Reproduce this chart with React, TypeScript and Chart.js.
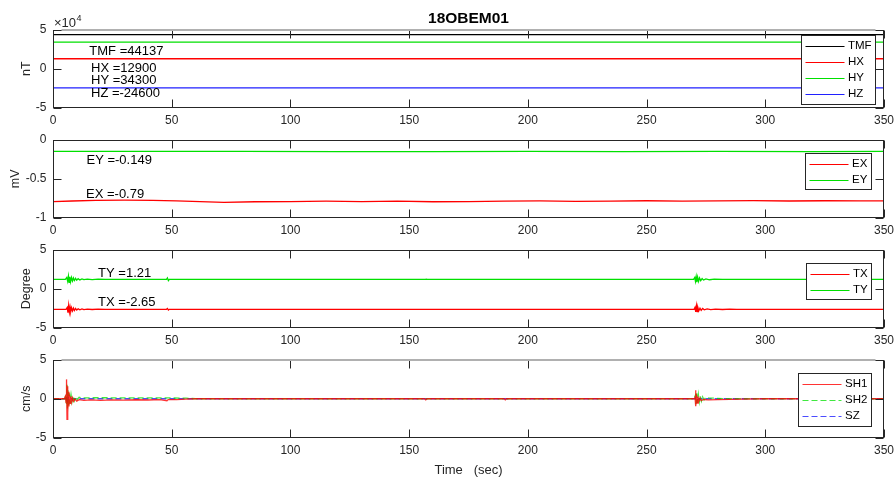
import React, { useEffect, useRef } from 'react';
import { Chart, registerables } from 'chart.js';

Chart.register(...registerables);

const FONT = '"Liberation Sans", Arial, Helvetica, sans-serif';
const AXIS_COLOR = '#262626';

// ---------- shared axis ----------
const TIME_MIN = 0;
const TIME_MAX = 350;
const TIME_STEP = 50;
const TITLE_TEXT = '18OBEM01';
const X_LABEL = 'Time   (sec)';

// ---------- panel 1 : magnetic field (nT) ----------
const TMF_VALUE = 44137;
const HX_VALUE = 12900;
const HY_VALUE = 34300;
const HZ_VALUE = -24600;
const TMF_POINTS: [number, number][] = [[0, TMF_VALUE], [350, TMF_VALUE]];
const HX_POINTS: [number, number][] = [[0, HX_VALUE], [350, HX_VALUE]];
const HY_POINTS: [number, number][] = [[0, HY_VALUE], [350, HY_VALUE]];
const HZ_POINTS: [number, number][] = [[0, HZ_VALUE], [350, HZ_VALUE]];
const MAG_TICKS = [-50000, 0, 50000];

// ---------- panel 2 : electric field (mV) ----------
const EX_VALUE = -0.79;
const EY_VALUE = -0.149;
const EX_POINTS: [number, number][] = [
  [0, -0.795], [8, -0.787], [18, -0.779], [30, -0.777], [42, -0.779], [52, -0.786], [62, -0.795],
  [72, -0.805], [85, -0.797], [100, -0.795], [115, -0.79], [130, -0.794], [145, -0.79], [160, -0.797],
  [175, -0.795], [190, -0.79], [205, -0.786], [220, -0.792], [235, -0.788], [250, -0.784], [265, -0.789],
  [280, -0.786], [295, -0.783], [310, -0.787], [325, -0.784], [340, -0.786], [350, -0.785],
];
const EY_POINTS: [number, number][] = [
  [0, -0.147], [40, -0.148], [80, -0.146], [120, -0.15], [160, -0.149], [200, -0.147],
  [240, -0.15], [280, -0.148], [320, -0.149], [350, -0.148],
];
const E_TICKS = [-1, -0.5, 0];

// ---------- panel 3 : tilt (Degree) ----------
const TX_VALUE = -2.65;
const TY_VALUE = 1.21;
const TX_POINTS: [number, number][] = [
  [0, -2.65], [5.5, -2.65], [6.0, -2.4], [6.3, -3.1], [6.6, -2.14], [6.9, -3.0], [7.2, -2.35], [7.5, -2.9],
  [7.8, -2.45], [8.2, -2.85], [8.6, -2.5], [9.0, -2.8], [9.5, -2.55], [10, -2.75], [10.6, -2.58], [11.3, -2.72],
  [12.2, -2.6], [13, -2.7], [14.5, -2.62], [16.5, -2.68], [19, -2.63], [22, -2.65], [47.8, -2.65], [48.2, -2.55],
  [48.6, -2.75], [49, -2.65], [270, -2.65], [270.4, -2.4], [270.7, -3.0], [271.0, -2.2], [271.3, -2.95],
  [271.6, -2.4], [272, -2.85], [272.5, -2.5], [273, -2.78], [273.6, -2.55], [274.3, -2.72], [275.5, -2.6],
  [277, -2.7], [279, -2.62], [282, -2.68], [285, -2.63], [288, -2.65], [350, -2.65],
];
const TY_POINTS: [number, number][] = [
  [0, 1.21], [5.2, 1.21], [5.8, 1.45], [6.2, 0.95], [6.5, 1.62], [6.8, 0.82], [7.1, 1.55], [7.4, 0.9],
  [7.8, 1.45], [8.2, 1.0], [8.6, 1.38], [9.0, 1.06], [9.5, 1.34], [10.0, 1.1], [10.6, 1.3], [11.3, 1.14],
  [12.2, 1.27], [13.0, 1.17], [14.5, 1.25], [16.5, 1.18], [19.0, 1.23], [22.0, 1.21], [47.8, 1.21],
  [48.2, 1.4], [48.6, 1.05], [49, 1.21], [156.8, 1.21], [157.2, 1.25], [157.6, 1.21], [269.8, 1.21],
  [270.3, 1.45], [270.6, 0.95], [270.9, 1.55], [271.2, 0.85], [271.5, 1.5], [271.9, 0.95], [272.3, 1.4],
  [272.8, 1.05], [273.4, 1.32], [274.0, 1.12], [275.0, 1.27], [276.5, 1.16], [278.5, 1.24], [282, 1.21], [350, 1.21],
];
const DEG_TICKS = [-5, 0, 5];

// ---------- panel 4 : seismometer (cm/s) ----------
const SH1_POINTS: [number, number][] = [
  [0, 0], [4.8, 0], [5.2, 0.3], [5.5, -0.5], [5.7, 2.5], [5.9, -2.65], [6.1, 1.6], [6.3, -1.8], [6.5, 0.9],
  [6.7, -1.0], [6.9, 0.5], [7.2, -0.6], [7.5, 0.3], [7.8, -0.45], [8.2, 0.1], [8.6, -0.35], [9.2, -0.05],
  [10, -0.3], [11, -0.12], [13, -0.22], [16, -0.15], [20, -0.2], [25, -0.15], [30, -0.18], [35, -0.13],
  [40, -0.16], [45, -0.12], [48, -0.25], [48.5, -0.1], [52, -0.1], [56, -0.05], [60, 0], [156.5, 0],
  [157, -0.15], [157.5, 0], [190, 0], [190.5, -0.15], [191, 0], [270, 0], [270.4, 0.2], [270.6, 1.1],
  [270.8, -0.95], [271.0, 0.6], [271.3, -0.55], [271.6, 0.3], [272, -0.35], [272.5, 0.1], [273, -0.25],
  [274, -0.1], [276, -0.15], [280, -0.1], [285, -0.08], [290, -0.05], [300, 0], [350, 0],
];
const SH2_POINTS: [number, number][] = [
  [0, 0], [5, 0], [5.4, 0.5], [5.7, -0.8], [5.9, 1.8], [6.1, -1.4], [6.3, 1.1], [6.6, -1.0], [6.9, 0.7],
  [7.2, -0.6], [7.6, 0.5], [8.0, -0.4], [8.5, 0.35], [9, -0.25], [9.6, 0.25], [10.2, -0.1], [11, 0.2],
  [12, 0.12], [20, 0.13], [30, 0.12], [40, 0.12], [50, 0.1], [56, 0.08], [60, 0], [270, 0], [270.5, 0.4],
  [270.8, -0.7], [271.1, 0.7], [271.4, -0.55], [271.8, 0.55], [272.2, -0.4], [272.6, 0.4], [273.1, -0.3],
  [273.6, 0.25], [274.2, -0.15], [275, 0.2], [276, 0.1], [280, 0.05], [285, 0], [350, 0],
];
const SZ_POINTS: [number, number][] = [
  [0, 0], [5.5, 0], [5.8, 0.3], [6.1, -0.3], [6.5, 0.15], [7, -0.1], [8, 0], [270.5, 0], [270.9, 0.2],
  [271.3, -0.2], [272, 0], [350, 0],
];
const VEL_TICKS = [-5, 0, 5];

type Series = { label: string; points: [number, number][]; color: string; dash?: number[] };
type Note = { text: string; x: number; y: number };
type PanelCfg = {
  top: number;
  bottom: number;
  xHeight: number;
  xTitle?: string;
  yTitle: string;
  yTitlePad: number;
  yTicks: number[];
  yFormat?: (v: number) => string;
  series: Series[];
  notes: Note[];
  legend: { right: number; top: number };
  grayTop?: boolean;
  exponent?: boolean;
  title?: string;
};

function makeDecor(cfg: PanelCfg) {
  return {
    id: 'decor',
    afterDatasetsDraw(chart: any) {
      const { ctx, chartArea: ca } = chart;
      const xs = chart.scales.x;
      const ys = chart.scales.y;
      const L = Math.round(ca.left) + 0.5;
      const R = Math.round(ca.right) - 0.5;
      const T = Math.round(ca.top) + 0.5;
      const B = Math.round(ca.bottom) - 0.5;
      const TL = 8;
      ctx.save();
      ctx.lineWidth = 1;
      ctx.strokeStyle = AXIS_COLOR;
      ctx.setLineDash([]);
      ctx.beginPath();
      xs.ticks.forEach((t: any) => {
        const p = Math.round(xs.getPixelForValue(t.value)) + 0.5;
        ctx.moveTo(p, B);
        ctx.lineTo(p, B - TL);
        ctx.moveTo(p, T);
        ctx.lineTo(p, T + TL);
      });
      ys.ticks.forEach((t: any) => {
        const p = Math.round(ys.getPixelForValue(t.value)) + 0.5;
        ctx.moveTo(L, p);
        ctx.lineTo(L + TL, p);
        ctx.moveTo(R, p);
        ctx.lineTo(R - TL, p);
      });
      ctx.stroke();
      ctx.strokeRect(L, T, R - L, B - T);
      if (cfg.grayTop) {
        ctx.strokeStyle = '#b0b0b0';
        ctx.lineWidth = 2;
        ctx.beginPath();
        ctx.moveTo(L + 8, T - 0.5);
        ctx.lineTo(R - 8, T - 0.5);
        ctx.stroke();
        ctx.lineWidth = 1;
      }

      // in-plot value annotations
      ctx.fillStyle = '#000';
      ctx.font = `13px ${FONT}`;
      ctx.textBaseline = 'middle';
      ctx.textAlign = 'left';
      cfg.notes.forEach((n) => {
        ctx.fillText(n.text, xs.getPixelForValue(n.x), ys.getPixelForValue(n.y));
      });

      // legend box
      ctx.font = `11.5px ${FONT}`;
      const items = chart.data.datasets;
      const tw = Math.max(...items.map((d: any) => ctx.measureText(d.label).width));
      const lineLen = 39;
      const w = Math.round(4 + lineLen + 3.5 + tw + 4);
      const rowH = 16.2;
      const pad = 2;
      const h = Math.round(items.length * rowH + 2 * pad);
      const bx = Math.round(ca.right - cfg.legend.right - w) + 0.5;
      const by = Math.round(ca.top + cfg.legend.top) + 0.5;
      ctx.fillStyle = '#fff';
      ctx.fillRect(bx, by, w, h);
      ctx.strokeStyle = AXIS_COLOR;
      ctx.lineWidth = 1;
      ctx.strokeRect(bx, by, w, h);
      items.forEach((d: any, i: number) => {
        const cy = by + pad + rowH * (i + 0.5);
        const ly = Math.round(cy) + 0.5;
        ctx.strokeStyle = d.borderColor;
        ctx.lineWidth = 1.2;
        ctx.setLineDash(d.borderDash || []);
        ctx.beginPath();
        ctx.moveTo(bx + 4, ly);
        ctx.lineTo(bx + 4 + lineLen, ly);
        ctx.stroke();
        ctx.setLineDash([]);
        ctx.fillStyle = '#000';
        ctx.fillText(d.label, bx + 4 + lineLen + 3.5, cy);
      });

      if (cfg.exponent) {
        ctx.fillStyle = AXIS_COLOR;
        ctx.textBaseline = 'alphabetic';
        ctx.font = `13px ${FONT}`;
        ctx.fillText('\u00d710', ca.left + 1, ca.top - 3.5);
        const wx = ctx.measureText('\u00d710').width;
        ctx.font = `9px ${FONT}`;
        ctx.fillText('4', ca.left + 1.5 + wx, ca.top - 9.5);
      }
      if (cfg.title) {
        ctx.fillStyle = '#000';
        ctx.textAlign = 'center';
        ctx.textBaseline = 'middle';
        ctx.font = `bold 15.5px ${FONT}`;
        ctx.fillText(cfg.title, (ca.left + ca.right) / 2, 18.5);
      }
      ctx.restore();
    },
  };
}

function makePanel(canvas: HTMLCanvasElement, cfg: PanelCfg) {
  const ymin = Math.min(...cfg.yTicks);
  const ymax = Math.max(...cfg.yTicks);
  const ystep = cfg.yTicks[1] - cfg.yTicks[0];
  const fmt = cfg.yFormat;
  return new Chart(canvas, {
    type: 'line',
    data: {
      datasets: cfg.series.map((s) => ({
        label: s.label,
        data: s.points.map(([x, y]) => ({ x, y })),
        borderColor: s.color,
        backgroundColor: s.color,
        borderWidth: 1.3,
        borderDash: s.dash || [],
        pointRadius: 0,
        pointHoverRadius: 0,
        fill: false,
        tension: 0,
      })),
    },
    options: {
      responsive: false,
      animation: false,
      devicePixelRatio: 1,
      events: [],
      layout: {
        padding: { left: 0, right: 10, top: cfg.top, bottom: 478 - cfg.bottom - cfg.xHeight },
      },
      plugins: {
        legend: { display: false },
        tooltip: { enabled: false },
        title: { display: false },
      },
      scales: {
        x: {
          type: 'linear',
          min: TIME_MIN,
          max: TIME_MAX,
          grid: { display: false, drawTicks: false },
          border: { display: false },
          ticks: {
            stepSize: TIME_STEP,
            padding: 6,
            color: AXIS_COLOR,
            font: { family: FONT, size: 12 },
            maxRotation: 0,
            autoSkip: false,
          },
          title: cfg.xTitle
            ? {
                display: true,
                text: cfg.xTitle,
                color: AXIS_COLOR,
                font: { family: FONT, size: 13 },
                padding: { top: 0, bottom: 0 },
              }
            : { display: false },
          afterFit: (s: any) => {
            s.height = cfg.xHeight;
            s.paddingLeft = 0;
            s.paddingRight = 0;
          },
        },
        y: {
          type: 'linear',
          min: ymin,
          max: ymax,
          grid: { display: false, drawTicks: false },
          border: { display: false },
          ticks: {
            stepSize: ystep,
            padding: 6.5,
            color: AXIS_COLOR,
            font: { family: FONT, size: 12 },
            callback: (v: any) => (fmt ? fmt(Number(v)) : String(Number(v))),
          },
          title: {
            display: true,
            text: cfg.yTitle,
            color: AXIS_COLOR,
            font: { family: FONT, size: 12.5 },
            padding: { top: cfg.yTitlePad, bottom: 0 },
          },
          afterFit: (s: any) => {
            s.width = 53;
            s.paddingTop = 0;
            s.paddingBottom = 0;
          },
        },
      },
    },
    plugins: [makeDecor(cfg)],
  } as any);
}

const PANELS: PanelCfg[] = [
  {
    top: 30,
    bottom: 107.5,
    xHeight: 30,
    yTitle: 'nT',
    yTitlePad: 19,
    yTicks: MAG_TICKS,
    yFormat: (v) => String(v / 10000),
    series: [
      { label: 'TMF', points: TMF_POINTS, color: '#000000' },
      { label: 'HX', points: HX_POINTS, color: '#ff0000' },
      { label: 'HY', points: HY_POINTS, color: '#00e000' },
      { label: 'HZ', points: HZ_POINTS, color: '#2020ff' },
    ],
    notes: [
      { text: `TMF =${TMF_VALUE}`, x: 15.3, y: 22000 },
      { text: `HX =${HX_VALUE}`, x: 16.0, y: 600 },
      { text: `HY =${HY_VALUE}`, x: 16.0, y: -14500 },
      { text: `HZ =${HZ_VALUE}`, x: 16.0, y: -31700 },
    ],
    legend: { right: 9, top: 4.5 },
    grayTop: true,
    exponent: true,
    title: TITLE_TEXT,
  },
  {
    top: 140,
    bottom: 217.5,
    xHeight: 30,
    yTitle: 'mV',
    yTitlePad: 8,
    yTicks: E_TICKS,
    series: [
      { label: 'EX', points: EX_POINTS, color: '#ff0000' },
      { label: 'EY', points: EY_POINTS, color: '#00e000' },
    ],
    notes: [
      { text: `EY =${EY_VALUE}`, x: 14.1, y: -0.26 },
      { text: `EX =${EX_VALUE}`, x: 13.9, y: -0.697 },
    ],
    legend: { right: 13, top: 13 },
  },
  {
    top: 250,
    bottom: 327.5,
    xHeight: 30,
    yTitle: 'Degree',
    yTitlePad: 19.5,
    yTicks: DEG_TICKS,
    series: [
      { label: 'TX', points: TX_POINTS, color: '#ff0000' },
      { label: 'TY', points: TY_POINTS, color: '#00e000' },
    ],
    notes: [
      { text: `TY =${TY_VALUE}`, x: 19.0, y: 1.93 },
      { text: `TX =${TX_VALUE}`, x: 19.0, y: -1.81 },
    ],
    legend: { right: 13, top: 13 },
  },
  {
    top: 360,
    bottom: 437.5,
    xHeight: 40.5,
    xTitle: X_LABEL,
    yTitle: 'cm/s',
    yTitlePad: 19.5,
    yTicks: VEL_TICKS,
    series: [
      { label: 'SH1', points: SH1_POINTS, color: 'rgba(255,0,0,0.8)' },
      { label: 'SH2', points: SH2_POINTS, color: 'rgba(0,224,0,0.75)', dash: [6, 3] },
      { label: 'SZ', points: SZ_POINTS, color: 'rgba(0,0,255,0.7)', dash: [6, 3] },
    ],
    notes: [],
    legend: { right: 13, top: 13 },
    grayTop: true,
  },
];

export default function App() {
  const refs = [
    useRef<HTMLCanvasElement>(null),
    useRef<HTMLCanvasElement>(null),
    useRef<HTMLCanvasElement>(null),
    useRef<HTMLCanvasElement>(null),
  ];
  useEffect(() => {
    const charts = PANELS.map((cfg, i) => makePanel(refs[i].current as HTMLCanvasElement, cfg));
    return () => charts.forEach((c) => c.destroy());
  }, []);
  return (
    <div style={{ position: 'fixed', left: 0, top: 0, width: 894, height: 478, background: '#fff' }}>
      {PANELS.map((_, i) => (
        <canvas
          key={i}
          ref={refs[i]}
          width={894}
          height={478}
          style={{ position: 'absolute', left: 0, top: 0, width: 894, height: 478 }}
        />
      ))}
    </div>
  );
}
